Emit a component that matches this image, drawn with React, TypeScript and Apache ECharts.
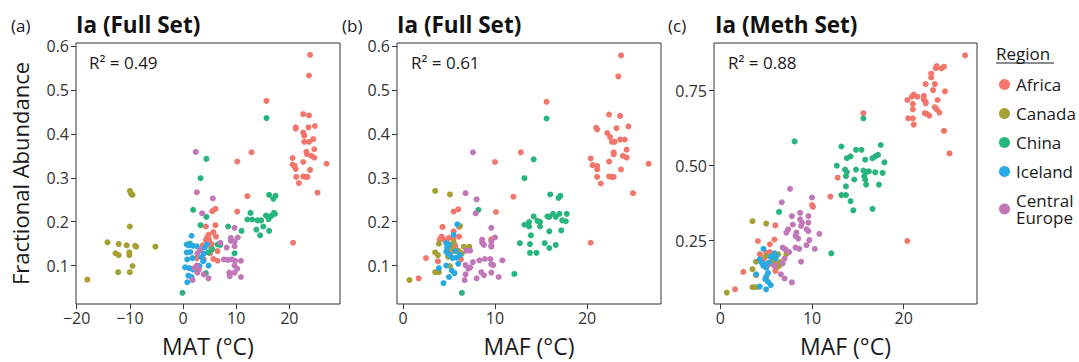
import React, { useEffect, useRef } from "react";
import * as echarts from "echarts";

const regions = ["Africa", "Canada", "China", "Iceland", "Central Europe"];
const colors = ["#F2766B", "#A5A033", "#27B47D", "#29A9E1", "#C177B8"];

const panelTitles = ["Ia (Full Set)", "Ia (Full Set)", "Ia (Meth Set)"];
const panelTags = ["(a)", "(b)", "(c)"];
const r2Labels = ["R\u00B2 = 0.49", "R\u00B2 = 0.61", "R\u00B2 = 0.88"];
const xTitles = ["MAT (\u00B0C)", "MAF (\u00B0C)", "MAF (\u00B0C)"];
const yTitle = "Fractional Abundance";
const xTicksA = [-20, -10, 0, 10, 20];
const xTicksBC = [0, 10, 20];
const yTicksAB = [0.1, 0.2, 0.3, 0.4, 0.5, 0.6];
const yTicksC = [0.25, 0.5, 0.75];

// Panel (a): MAT vs fractional abundance (full set)
const africaA = [[23.9,0.580],[23.7,0.533],[15.7,0.475],[22.6,0.445],[23.7,0.442],[21.2,0.415],[21.2,0.412],[23.6,0.415],[24.8,0.418],[22.6,0.403],[22.8,0.396],[24.5,0.388],[23.7,0.382],[22.8,0.382],[24.7,0.365],[23.2,0.359],[23.3,0.354],[24.1,0.350],[24.7,0.346],[12.9,0.358],[27.0,0.332],[20.6,0.345],[20.6,0.330],[21.2,0.320],[23.9,0.318],[22.6,0.336],[21.3,0.302],[22.6,0.303],[23.1,0.302],[21.8,0.288],[25.3,0.266],[10.2,0.337],[12.1,0.258],[10.2,0.223],[6.1,0.229],[5.5,0.224],[20.7,0.152],[4.3,0.189],[6.1,0.192],[5.7,0.176],[4.5,0.164],[4.9,0.159],[6.2,0.166],[5.4,0.149],[4.3,0.158],[3.7,0.146],[6.5,0.133],[5.7,0.115],[6.5,0.111],[3.9,0.114],[2.6,0.117],[5.1,0.128],[21.0,0.327],[23.4,0.302],[4.8,0.170],[5.3,0.140]];
const canadaA = [[-10.0,0.270],[-9.8,0.264],[-9.5,0.261],[-10.0,0.189],[-14.2,0.153],[-12.1,0.149],[-10.6,0.146],[-8.8,0.143],[-9.0,0.145],[-5.2,0.143],[-12.7,0.128],[-12.1,0.124],[-10.1,0.130],[-10.1,0.124],[-9.5,0.099],[-12.2,0.085],[-10.0,0.085],[-18.0,0.068]];
const chinaA = [[15.7,0.436],[4.4,0.343],[3.3,0.299],[1.9,0.227],[4.4,0.211],[3.3,0.192],[16.2,0.261],[17.4,0.259],[17.0,0.252],[12.1,0.205],[12.7,0.220],[13.0,0.205],[14.0,0.203],[14.7,0.203],[15.1,0.189],[13.8,0.182],[14.5,0.169],[16.2,0.179],[15.6,0.214],[16.2,0.211],[16.7,0.214],[17.1,0.220],[16.1,0.206],[17.3,0.218],[8.5,0.189],[11.0,0.179],[5.5,0.137],[6.5,0.148],[7.0,0.147],[4.8,0.130],[9.7,0.128],[4.3,0.083],[-0.1,0.038],[1.3,0.150]];
const icelandA = [[1.6,0.168],[0.7,0.148],[1.1,0.146],[1.9,0.145],[2.6,0.144],[0.7,0.130],[1.4,0.131],[0.8,0.114],[1.8,0.117],[3.5,0.119],[3.9,0.127],[4.1,0.141],[4.5,0.148],[0.4,0.096],[1.2,0.094],[1.9,0.091],[3.1,0.099],[4.8,0.100],[1.0,0.077],[1.6,0.074],[0.8,0.062],[3.8,0.110]];
const centralEuropeA = [[2.4,0.359],[2.6,0.267],[5.6,0.253],[3.6,0.219],[9.7,0.186],[9.0,0.163],[9.0,0.156],[10.3,0.164],[9.7,0.155],[9.7,0.144],[8.2,0.141],[7.0,0.152],[3.2,0.135],[2.7,0.128],[7.7,0.114],[8.4,0.113],[9.2,0.114],[9.8,0.111],[10.9,0.111],[9.7,0.100],[10.2,0.093],[8.7,0.084],[9.7,0.084],[8.8,0.076],[10.9,0.074],[2.6,0.100],[2.2,0.095],[3.0,0.091],[2.7,0.084],[1.8,0.067],[4.8,0.071],[3.9,0.080]];

// Panel (b): MAF vs fractional abundance (full set)
const africaB = [[23.7,0.579],[23.4,0.531],[15.6,0.473],[22.4,0.444],[23.6,0.441],[21.0,0.414],[21.1,0.410],[23.2,0.413],[24.5,0.417],[22.2,0.402],[22.5,0.393],[23.6,0.387],[24.1,0.387],[22.7,0.382],[23.0,0.382],[24.3,0.364],[22.9,0.358],[22.9,0.353],[23.9,0.350],[24.3,0.346],[12.8,0.358],[26.7,0.332],[20.4,0.344],[20.6,0.329],[21.1,0.327],[21.1,0.319],[22.4,0.337],[23.7,0.319],[21.1,0.302],[22.4,0.303],[22.7,0.302],[22.9,0.302],[21.5,0.287],[25.0,0.265],[10.0,0.336],[12.0,0.257],[10.1,0.222],[6.0,0.228],[5.5,0.223],[20.4,0.152],[4.3,0.188],[6.1,0.188],[5.5,0.178],[4.2,0.166],[4.4,0.160],[5.0,0.163],[5.5,0.161],[6.1,0.166],[4.7,0.155],[4.0,0.160],[5.1,0.145],[5.7,0.145],[5.2,0.130],[6.1,0.130],[6.3,0.114],[3.8,0.110],[2.5,0.117],[1.7,0.071],[9.6,0.160]];
const canadaB = [[0.7,0.067],[3.5,0.270],[5.1,0.262],[6.2,0.190],[5.5,0.153],[3.9,0.150],[3.5,0.130],[3.8,0.124],[6.6,0.143],[7.2,0.143],[6.0,0.134],[5.1,0.099],[3.5,0.085],[3.9,0.085],[5.3,0.140],[4.9,0.120],[6.4,0.128]];
const chinaB = [[15.6,0.435],[14.2,0.342],[13.2,0.299],[8.2,0.227],[16.0,0.262],[16.9,0.254],[17.1,0.259],[13.2,0.193],[13.7,0.199],[13.7,0.189],[14.2,0.212],[14.6,0.202],[14.9,0.199],[14.9,0.189],[15.7,0.212],[15.9,0.211],[16.3,0.218],[16.6,0.211],[17.0,0.218],[17.3,0.203],[17.7,0.201],[17.8,0.218],[13.9,0.169],[15.9,0.178],[17.2,0.180],[12.7,0.151],[13.8,0.149],[15.4,0.151],[16.6,0.147],[15.9,0.140],[13.8,0.129],[14.5,0.129],[12.1,0.081],[6.4,0.038]];
const icelandB = [[5.9,0.194],[5.5,0.170],[4.7,0.151],[5.0,0.148],[4.7,0.132],[4.9,0.128],[5.7,0.133],[5.1,0.124],[6.2,0.124],[5.4,0.117],[5.8,0.118],[4.7,0.100],[3.9,0.094],[5.3,0.089],[5.6,0.083],[5.0,0.074],[4.4,0.060],[6.0,0.104],[4.8,0.141]];
const centralEuropeB = [[7.6,0.358],[6.8,0.265],[8.0,0.251],[7.9,0.219],[9.6,0.186],[10.0,0.164],[8.6,0.159],[8.6,0.152],[8.8,0.147],[9.6,0.155],[9.6,0.146],[9.6,0.143],[6.9,0.134],[7.3,0.134],[7.6,0.108],[8.3,0.112],[8.9,0.115],[9.5,0.115],[9.6,0.103],[9.8,0.101],[10.8,0.112],[6.8,0.101],[7.1,0.093],[7.3,0.096],[8.5,0.085],[8.8,0.078],[8.0,0.071],[9.6,0.084],[10.4,0.074],[6.8,0.080],[6.7,0.067]];

// Panel (c): MAF vs fractional abundance (meth set)
const africaC = [[26.7,0.868],[23.5,0.825],[24.1,0.824],[24.4,0.830],[23.6,0.832],[23.0,0.807],[23.0,0.794],[22.4,0.772],[23.4,0.772],[23.2,0.752],[24.5,0.748],[21.1,0.737],[21.5,0.730],[20.9,0.730],[22.2,0.733],[22.2,0.721],[22.4,0.713],[23.7,0.719],[20.4,0.719],[21.0,0.706],[22.4,0.708],[21.0,0.688],[23.4,0.695],[23.6,0.688],[23.9,0.677],[22.5,0.673],[22.8,0.667],[22.3,0.675],[20.5,0.658],[21.0,0.658],[21.1,0.637],[24.4,0.616],[25.0,0.541],[15.6,0.675],[12.8,0.460],[12.0,0.397],[10.0,0.369],[10.1,0.363],[20.4,0.249],[6.0,0.301],[5.9,0.254],[4.1,0.249],[5.4,0.238],[2.5,0.146],[1.6,0.088],[3.9,0.136],[4.3,0.205],[5.0,0.210],[5.4,0.212],[5.3,0.199],[5.6,0.205],[4.8,0.194],[5.9,0.177],[5.7,0.171],[6.1,0.160],[5.1,0.166],[6.0,0.149],[4.7,0.188],[5.8,0.194]];
const canadaC = [[3.5,0.315],[5.0,0.307],[7.2,0.205],[6.3,0.205],[3.9,0.180],[6.5,0.179],[6.4,0.166],[3.5,0.155],[3.9,0.135],[3.5,0.095],[3.9,0.095],[0.7,0.077],[5.0,0.199],[4.7,0.171],[5.7,0.182],[6.1,0.199]];
const chinaC = [[15.6,0.658],[8.1,0.581],[13.2,0.564],[14.8,0.553],[15.4,0.553],[17.5,0.569],[14.2,0.531],[13.8,0.525],[16.6,0.525],[16.9,0.531],[15.8,0.520],[17.2,0.536],[17.9,0.511],[12.7,0.500],[13.6,0.487],[13.8,0.479],[14.8,0.487],[15.6,0.484],[15.9,0.479],[16.2,0.481],[16.9,0.478],[17.7,0.476],[13.7,0.465],[14.6,0.454],[15.7,0.465],[15.8,0.454],[15.9,0.437],[17.3,0.437],[13.7,0.431],[13.2,0.402],[13.7,0.402],[14.2,0.382],[14.5,0.351],[16.6,0.356],[6.4,0.346],[12.1,0.208]];
const icelandC = [[4.7,0.223],[5.5,0.197],[6.1,0.199],[5.9,0.208],[4.3,0.188],[4.5,0.177],[4.8,0.171],[5.3,0.177],[4.7,0.166],[5.0,0.160],[3.9,0.138],[5.0,0.130],[5.2,0.142],[4.9,0.122],[5.2,0.113],[5.5,0.102],[4.3,0.097],[5.0,0.088],[6.0,0.190]];
const centralEuropeC = [[7.6,0.423],[6.7,0.378],[10.0,0.394],[7.8,0.332],[8.7,0.343],[9.6,0.332],[8.7,0.321],[8.9,0.310],[9.6,0.310],[7.9,0.304],[8.8,0.299],[7.4,0.288],[7.2,0.277],[8.3,0.277],[9.4,0.288],[9.6,0.282],[10.8,0.273],[8.2,0.266],[8.5,0.257],[9.7,0.252],[9.4,0.235],[6.8,0.227],[7.1,0.221],[8.2,0.227],[8.6,0.223],[10.3,0.223],[7.5,0.212],[7.0,0.190],[6.8,0.174],[8.8,0.180],[6.6,0.138],[7.0,0.124],[7.8,0.111],[5.9,0.166]];

const panelData = [
  [africaA, canadaA, chinaA, icelandA, centralEuropeA],
  [africaB, canadaB, chinaB, icelandB, centralEuropeB],
  [africaC, canadaC, chinaC, icelandC, centralEuropeC],
];

const FONT = "'Open Sans', 'Noto Sans', sans-serif";

export default function App() {
  const ref = useRef<HTMLDivElement>(null);

  useEffect(() => {
    if (!ref.current) return;
    const chart = echarts.init(ref.current, undefined, { renderer: "svg" });

    const grids = [
      { left: 76, top: 43, width: 264, height: 262 },
      { left: 397, top: 43, width: 264, height: 262 },
      { left: 714, top: 43, width: 263, height: 262 },
    ].map((g) => ({ ...g, show: true, borderColor: "#333", borderWidth: 1, backgroundColor: "#fff", containLabel: false }));

    const xRanges = [[-20.13, 29.53], [-0.652, 28.04], [-0.698, 28.0]];
    const yRanges = [[0.0125, 0.607], [0.0125, 0.607], [0.039, 0.909]];
    const xTickSets = [xTicksA, xTicksBC, xTicksBC];
    const yTickSets = [yTicksAB, yTicksAB, yTicksC];

    const fmtX = (v: number) => (v < 0 ? "\u2212" + Math.abs(v) : String(v));

    const xAxis = [0, 1, 2].map((i) => ({
      type: "value",
      gridIndex: i,
      min: xRanges[i][0],
      max: xRanges[i][1],
      splitLine: { show: false },
      axisLine: { show: false, onZero: false },
      axisTick: { show: true, length: 5, lineStyle: { color: "#333" }, customValues: xTickSets[i] },
      axisLabel: { color: "#333", fontSize: 16, fontFamily: FONT, margin: 6, formatter: fmtX, customValues: xTickSets[i] },
      name: xTitles[i],
      nameLocation: "middle",
      nameGap: 30,
      nameTextStyle: { color: "#1a1a1a", fontSize: 23, fontFamily: FONT },
    }));

    const yAxis = [0, 1, 2].map((i) => ({
      type: "value",
      gridIndex: i,
      min: yRanges[i][0],
      max: yRanges[i][1],
      splitLine: { show: false },
      axisLine: { show: false, onZero: false },
      axisTick: { show: true, length: 5, lineStyle: { color: "#333" }, customValues: yTickSets[i] },
      axisLabel: {
        color: "#333",
        fontSize: 16,
        fontFamily: FONT,
        margin: 7,
        customValues: yTickSets[i],
        formatter: (v: number) => (i === 2 ? v.toFixed(2) : v.toFixed(1)),
      },
      name: i === 0 ? yTitle : "",
      nameLocation: "middle",
      nameGap: 45,
      nameTextStyle: { color: "#1a1a1a", fontSize: 22, fontFamily: FONT },
    }));

    const series: any[] = [];
    panelData.forEach((sets, p) => {
      sets.forEach((data, r) => {
        series.push({
          type: "scatter",
          name: regions[r],
          xAxisIndex: p,
          yAxisIndex: p,
          data,
          symbol: "circle",
          symbolSize: 6,
          itemStyle: { color: colors[r], opacity: 1 },
          emphasis: { disabled: true },
        });
      });
    });

    const panelTagX = [11, 342, 668];
    const titleX = [76, 397, 715];
    const r2X = [89, 411, 728];

    const graphic: any[] = [];
    for (let i = 0; i < 3; i++) {
      graphic.push({
        type: "text",
        x: panelTagX[i],
        y: 25,
        style: { text: panelTags[i], fontSize: 17, fontFamily: FONT, fill: "#1a1a1a", verticalAlign: "middle" },
      });
      graphic.push({
        type: "text",
        x: titleX[i],
        y: 24,
        style: { text: panelTitles[i], fontSize: 22.5, fontWeight: "bold", fontFamily: FONT, fill: "#111", verticalAlign: "middle" },
      });
      graphic.push({
        type: "text",
        x: r2X[i],
        y: 62,
        style: { text: r2Labels[i], fontSize: 17, fontFamily: FONT, fill: "#1a1a1a", verticalAlign: "middle" },
      });
    }
    graphic.push({
      type: "text",
      x: 996,
      y: 53,
      style: { text: "Region", fontSize: 17, fontFamily: FONT, fill: "#1a1a1a", verticalAlign: "middle" },
    });
    graphic.push({
      type: "line",
      shape: { x1: 996, y1: 63, x2: 1054, y2: 63 },
      style: { stroke: "#1a1a1a", lineWidth: 1 },
    });

    chart.setOption({
      animation: false,
      grid: grids,
      xAxis,
      yAxis,
      series,
      graphic,
      legend: {
        data: regions,
        orient: "vertical",
        left: 994,
        top: 71,
        itemGap: 12,
        itemWidth: 11,
        itemHeight: 11,
        icon: "circle",
        selectedMode: false,
        formatter: (n: string) => (n === "Central Europe" ? "Central\nEurope" : n),
        textStyle: { fontSize: 17, fontFamily: FONT, color: "#1a1a1a", lineHeight: 17, padding: [0, 0, 0, 1] },
      },
    });

    return () => chart.dispose();
  }, []);

  return <div ref={ref} style={{ position: "fixed", left: 0, top: 0, width: 1079, height: 362, background: "#fff" }} />;
}
